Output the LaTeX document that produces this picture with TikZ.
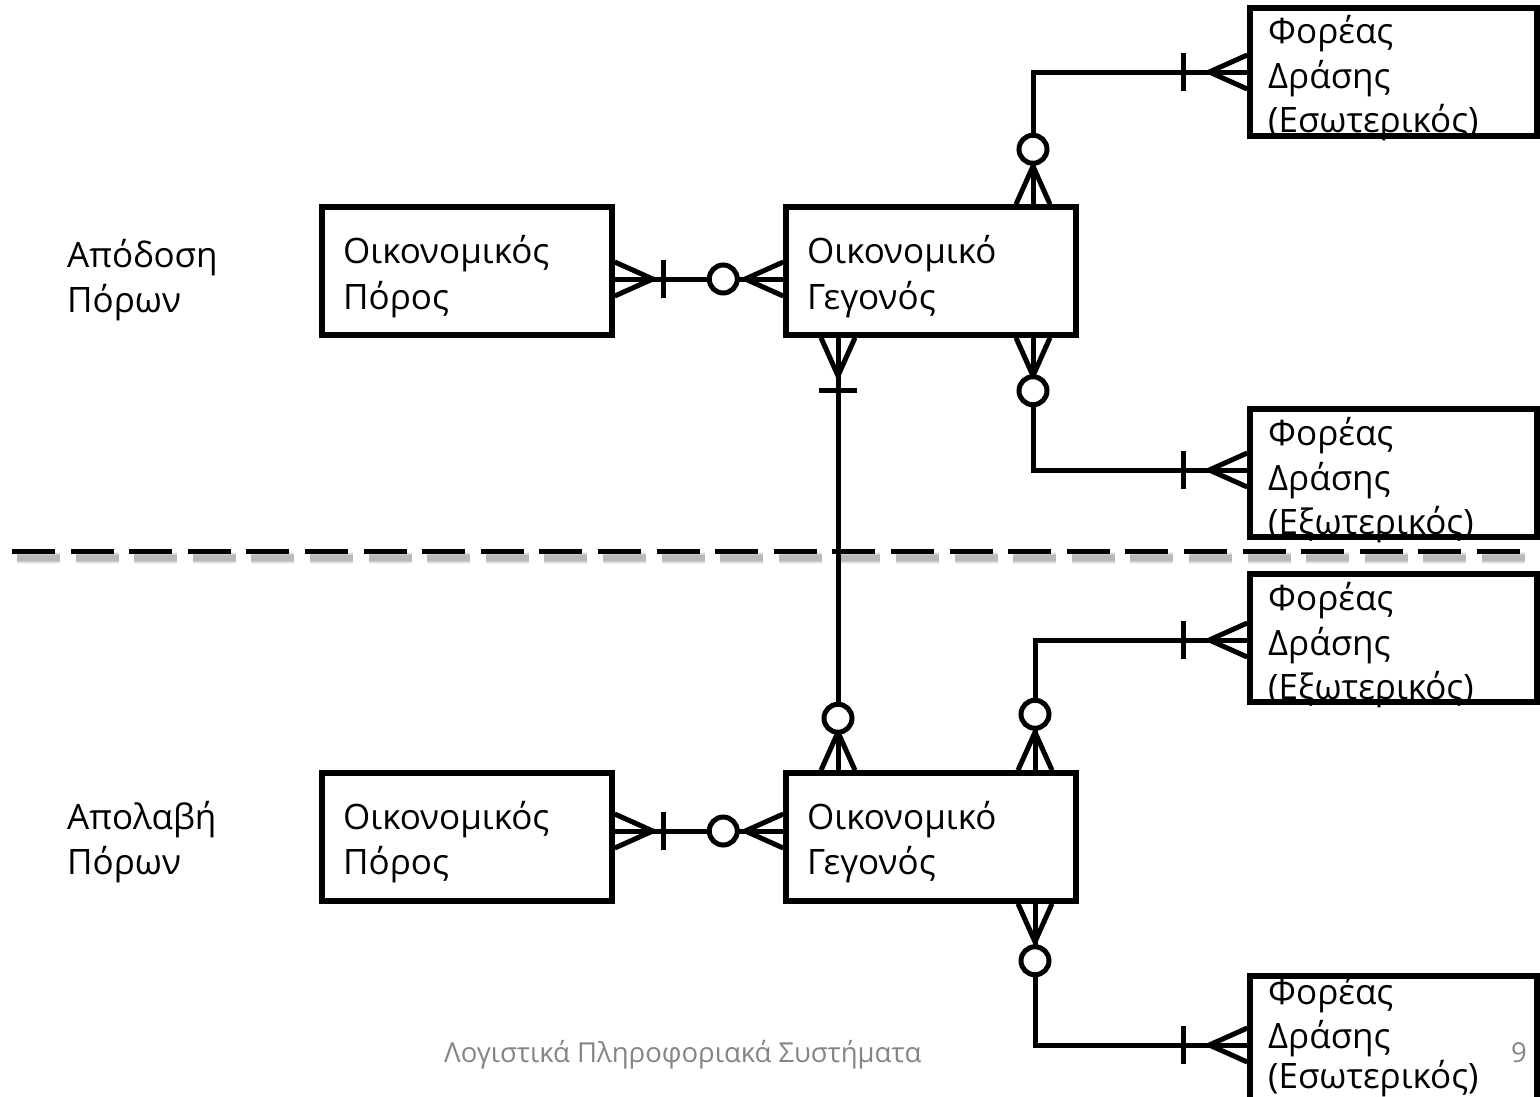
\documentclass[tikz,border=0pt]{standalone}
\usepackage{fontspec}
\setmainfont{Open Sans}
\usetikzlibrary{calc}
\tikzset{
  ebox/.style={draw, line width=5.5pt, minimum width=290pt, minimum height=128pt, inner sep=0pt},
  fbox/.style={draw, line width=5.5pt, minimum width=287pt, minimum height=128pt, inner sep=0pt},
  conn/.style={line width=5pt, line cap=rect},
  txt/.style={anchor=base west, inner sep=0pt, font=\fontsize{35}{45}\selectfont},
  foot/.style={anchor=base west, inner sep=0pt, text=black!48, font=\fontsize{27.5}{32}\selectfont},
  zero/.style={circle, draw, line width=5pt, fill=white, minimum size=28pt, inner sep=0pt},
  crow/.pic={\draw[line width=5pt] (0pt,17pt)--(38pt,0pt)--(0pt,-17pt);},
  onebar/.pic={\draw[line width=5pt] (0pt,-19pt)--(0pt,19pt);},
  sepdash/.style={dash pattern=on 43pt off 15.6pt}
}
\begin{document}
\begin{tikzpicture}[x=1pt,y=-1pt]
\useasboundingbox (0,0) rectangle (1540,1096);
% boxes
\node[ebox] (P1) at (467,271) {};
\node[ebox] (G1) at (931,271) {};
\node[ebox] (P2) at (467,837) {};
\node[ebox] (G2) at (931,837) {};
\node[fbox] (F1) at (1393.5,72) {};
\node[fbox] (F2) at (1393.5,473) {};
\node[fbox] (F3) at (1393.5,638) {};
\node[fbox] (F4) at (1393.5,1040) {};
% texts
\node[txt] (tP1a) at (343,263) {Οικονομικός};
\node[txt] (tP1b) at (343,309) {Πόρος};
\node[txt] (tG1a) at (807,263) {Οικονομικό};
\node[txt] (tG1b) at (807,309) {Γεγονός};
\node[txt] (tP2a) at (343,829) {Οικονομικός};
\node[txt] (tP2b) at (343,874) {Πόρος};
\node[txt] (tG2a) at (807,829) {Οικονομικό};
\node[txt] (tG2b) at (807,874) {Γεγονός};
\node[txt] (tF1a) at (1268,43) {Φορέας};
\node[txt] (tF1b) at (1268,88) {Δράσης};
\node[txt] (tF1c) at (1268,132) {(Εσωτερικός)};
\node[txt] (tF2a) at (1268,445) {Φορέας};
\node[txt] (tF2b) at (1268,490) {Δράσης};
\node[txt] (tF2c) at (1268,534) {(Εξωτερικός)};
\node[txt] (tF3a) at (1268,610) {Φορέας};
\node[txt] (tF3b) at (1268,655) {Δράσης};
\node[txt] (tF3c) at (1268,699) {(Εξωτερικός)};
\node[txt] (tF4a) at (1268,1004) {Φορέας};
\node[txt] (tF4b) at (1268,1048) {Δράσης};
\node[txt] (tF4c) at (1268,1088) {(Εσωτερικός)};
\node[txt] (L1a) at (67,267) {Απόδοση};
\node[txt] (L1b) at (67,312) {Πόρων};
\node[txt] (L2a) at (67,829) {Απολαβή};
\node[txt] (L2b) at (67,874) {Πόρων};
\node[foot] (foot) at (444,1062) {Λογιστικά Πληροφοριακά Συστήματα};
\node[foot] (page) at (1511,1062) {9};
% dashed separator with soft shadow
\foreach \w/\o in {12/.05, 10/.07, 8/.09, 6/.10}{
  \draw[black, opacity=\o, line width=\w pt, sepdash] (17,558) -- (1525,558);
}
\draw[line width=5pt, sepdash] (12,551) -- (1520,551);
% connectors
\coordinate (a1) at ($(P1.east)+(0,8)$);
\coordinate (b1) at ($(G1.west)+(0,8)$);
\draw[conn] (a1) -- (b1);
\pic at (a1) {crow};
\pic at ($(a1)+(49,0)$) {onebar};
\pic[rotate=180] at (b1) {crow};
\node[zero] (z1) at ($(b1)+(-60,0)$) {};

\coordinate (a2) at ($(G1.south)+(-93,0)$);
\coordinate (b2) at ($(G2.north)+(-93,0)$);
\draw[conn] (a2) -- (b2);
\pic[rotate=-90] at (a2) {crow};
\pic[rotate=90] at ($(a2)+(0,53)$) {onebar};
\pic[rotate=90] at (b2) {crow};
\node[zero] (z2) at ($(b2)+(0,-52)$) {};

\coordinate (a3) at ($(G1.north)+(102,0)$);
\coordinate (b3) at (F1.west);
\draw[conn] (a3) |- (b3);
\pic[rotate=90] at (a3) {crow};
\node[zero] (z3) at ($(a3)+(0,-55)$) {};
\pic at ($(b3)+(-64,0)$) {onebar};
\pic[rotate=180] at (b3) {crow};

\coordinate (a4) at ($(G1.south)+(102,0)$);
\coordinate (b4) at ($(F2.west)+(0,-3)$);
\draw[conn] (a4) |- (b4);
\pic[rotate=-90] at (a4) {crow};
\node[zero] (z4) at ($(a4)+(0,53)$) {};
\pic at ($(b4)+(-64,0)$) {onebar};
\pic[rotate=180] at (b4) {crow};

\coordinate (a5) at ($(G2.north)+(104,0)$);
\coordinate (b5) at ($(F3.west)+(0,2)$);
\draw[conn] (a5) |- (b5);
\pic[rotate=90] at (a5) {crow};
\node[zero] (z5) at ($(a5)+(0,-56)$) {};
\pic at ($(b5)+(-64,0)$) {onebar};
\pic[rotate=180] at (b5) {crow};

\coordinate (a6) at ($(G2.south)+(104,0)$);
\coordinate (b6) at ($(F4.west)+(0,5)$);
\draw[conn] (a6) |- (b6);
\pic[rotate=-90] at (a6) {crow};
\node[zero] (z6) at ($(a6)+(0,57)$) {};
\pic at ($(b6)+(-64,0)$) {onebar};
\pic[rotate=180] at (b6) {crow};

\coordinate (a7) at ($(P2.east)+(0,-6)$);
\coordinate (b7) at ($(G2.west)+(0,-6)$);
\draw[conn] (a7) -- (b7);
\pic at (a7) {crow};
\pic at ($(a7)+(49,0)$) {onebar};
\pic[rotate=180] at (b7) {crow};
\node[zero] (z7) at ($(b7)+(-60,0)$) {};
\end{tikzpicture}
\end{document}
